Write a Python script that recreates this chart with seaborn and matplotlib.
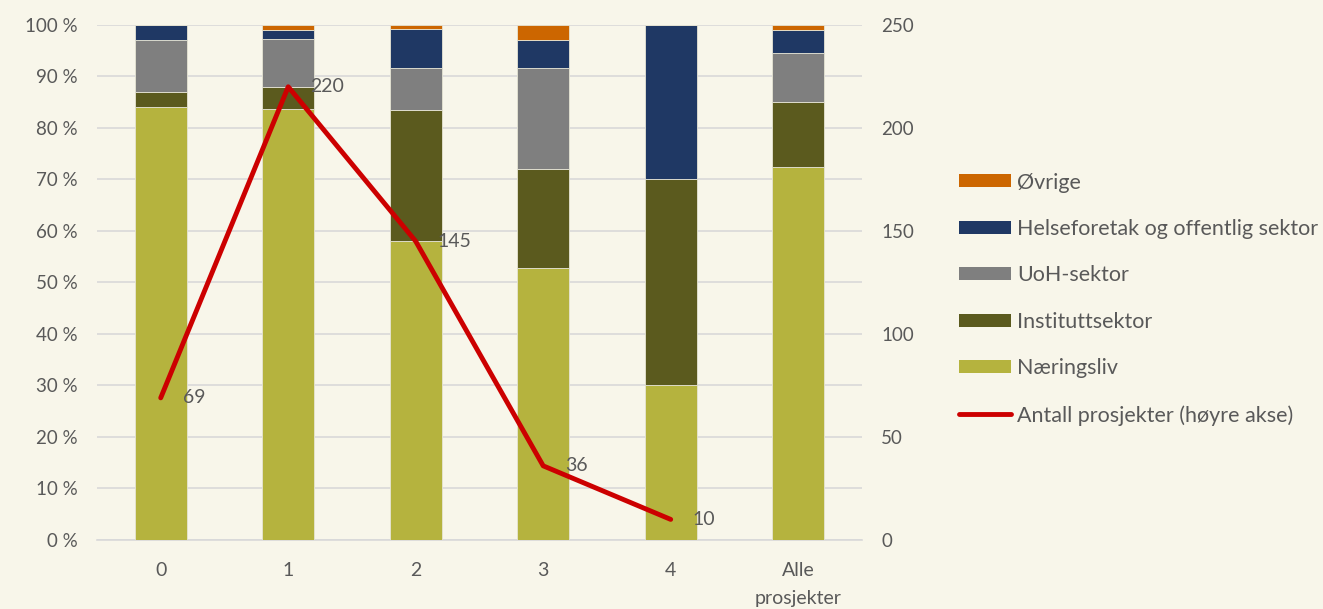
import matplotlib
matplotlib.use("Agg")
import matplotlib.pyplot as plt
from matplotlib.patches import Patch
from matplotlib.lines import Line2D
import seaborn as sns
import pandas as pd

categories = ["0", "1", "2", "3", "4", "Alle\nprosjekter"]
naeringsliv = [84.0, 83.6, 58.0, 52.9, 30.1, 72.4]
institutt = [2.9, 4.4, 25.4, 19.2, 39.9, 12.6]
uoh = [10.2, 9.2, 8.3, 19.6, 0.0, 9.6]
helse = [2.9, 1.8, 7.5, 5.4, 30.0, 4.4]
ovrige = [0.0, 1.0, 0.8, 2.9, 0.0, 1.0]
line_categories = [0, 1, 2, 3, 4]
antall = [69, 220, 145, 36, 10]

series = [
    ("Næringsliv", naeringsliv, "#B5B33E"),
    ("Instituttsektor", institutt, "#5B5A1E"),
    ("UoH-sektor", uoh, "#7F7F7F"),
    ("Helseforetak og offentlig sektor", helse, "#1F3864"),
    ("Øvrige", ovrige, "#CC6600"),
]
line_label = "Antall prosjekter (høyre akse)"
line_color = "#CC0000"

bg = "#F8F6EA"
text_color = "#595959"

sns.set_theme(style="white")
plt.rcParams["font.family"] = ["Lato", "DejaVu Sans"]

fig = plt.figure(figsize=(13.23, 6.09), dpi=100, facecolor=bg)
ax = fig.add_axes([0.0733, 0.1133, 0.5782, 0.8457])
ax.set_facecolor(bg)

bottom = [0.0] * len(categories)
for name, vals, color in series:
    df = pd.DataFrame({"kategori": categories, "andel": vals})
    sns.barplot(data=df, x="kategori", y="andel", color=color, width=0.41,
                bottom=bottom, ax=ax, edgecolor="#E6E4D4", linewidth=0.6,
                saturation=1, zorder=3)
    bottom = [b + v for b, v in zip(bottom, vals)]

ax.set_xlim(-0.5, 5.5)
ax.set_ylim(0, 100)
ax.set_yticks(range(0, 101, 10))
ax.set_yticklabels([f"{t} %" for t in range(0, 101, 10)])
ax.grid(axis="y", color="#D9D9D9", linewidth=1.2, zorder=0)
ax.set_axisbelow(True)
ax.set_xlabel("")
ax.set_ylabel("")
for s in ["top", "left", "right"]:
    ax.spines[s].set_visible(False)
ax.spines["bottom"].set_color("#D9D9D9")
ax.spines["bottom"].set_linewidth(1.2)
ax.tick_params(axis="y", length=0, labelsize=13.5, colors=text_color, pad=14)
ax.tick_params(axis="x", length=0, labelsize=14, colors=text_color, pad=16)
for lbl in ax.get_xticklabels():
    lbl.set_linespacing(1.75)

ax2 = ax.twinx()
ldf = pd.DataFrame({"x": line_categories, "antall": antall})
sns.lineplot(data=ldf, x="x", y="antall", color=line_color, linewidth=3.5,
             ax=ax2, zorder=5)
ax2.set_ylim(0, 250)
ax2.set_yticks(range(0, 251, 50))
ax2.set_xlim(-0.5, 5.5)
ax2.set_xlabel("")
ax2.set_ylabel("")
for s in ax2.spines.values():
    s.set_visible(False)
ax2.tick_params(axis="y", length=0, labelsize=13.5, colors=text_color, pad=14)
ax2.grid(False)
for x, v in zip(line_categories, antall):
    ax2.annotate(f"{v}", (x, v), xytext=(16, 0), textcoords="offset points",
                 va="center", ha="left", fontsize=14, color=text_color, zorder=6)

handles = [Patch(facecolor=c, edgecolor="none", label=n) for n, _, c in reversed(series)]
handles.append(Line2D([0], [0], color=line_color, linewidth=3.5,
                      solid_capstyle="round", label=line_label))
leg = fig.legend(handles=handles, loc="center left", bbox_to_anchor=(0.725, 0.509),
                 frameon=False, fontsize=15.5, labelspacing=1.23, handlelength=2.4,
                 handleheight=0.56, handletextpad=0.3, labelcolor=text_color,
                 borderaxespad=0, borderpad=0)

fig.savefig("out.png", dpi=100, facecolor=bg)
